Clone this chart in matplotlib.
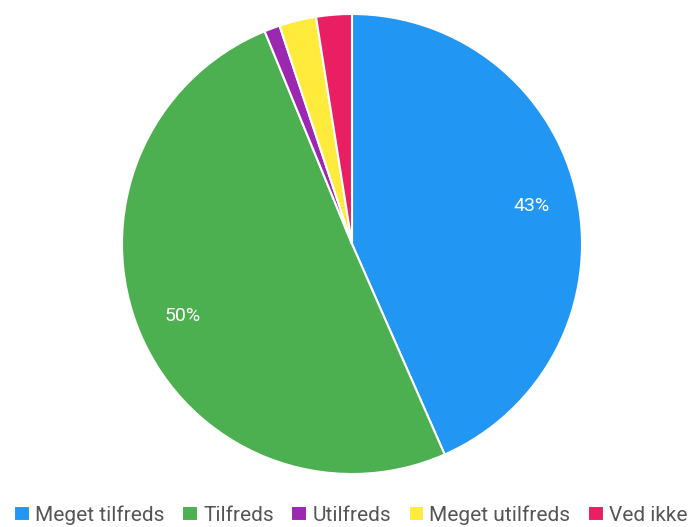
import matplotlib.pyplot as plt

# --- Data ---
labels = ["Meget tilfreds", "Tilfreds", "Utilfreds", "Meget utilfreds", "Ved ikke"]
values = [43.4, 50.4, 1.1, 2.6, 2.5]
colors = ["#2196F3", "#4CAF50", "#9C27B0", "#FFEB3B", "#E91E63"]

plt.rcParams['font.family'] = ['Roboto', 'DejaVu Sans']


def pct_label(p):
    # only show labels on the big slices
    return f"{p:.0f}%" if p >= 5 else ""


fig = plt.figure(figsize=(6.95, 5.27), dpi=100)
ax = fig.add_axes([122 / 695, 53 / 527, 460 / 695, 460 / 527])

wedges, texts, autotexts = ax.pie(
    values, colors=colors, startangle=90, counterclock=False,
    autopct=pct_label, pctdistance=0.8, radius=1.0,
    wedgeprops=dict(edgecolor="white", linewidth=1.5),
    textprops=dict(color="white", fontsize=14),
)
ax.set_xlim(-1, 1)
ax.set_ylim(-1, 1)
ax.set_aspect("equal")

leg = fig.legend(
    wedges, labels, loc="lower center", bbox_to_anchor=(0.505, 0.004),
    ncol=5, frameon=False, fontsize=15, handlelength=0.75, handleheight=0.75,
    handletextpad=0.25, columnspacing=0.85, borderaxespad=0.0, borderpad=0.0,
)
for t in leg.get_texts():
    t.set_color("#555555")

fig.savefig("out.png", dpi=100)
